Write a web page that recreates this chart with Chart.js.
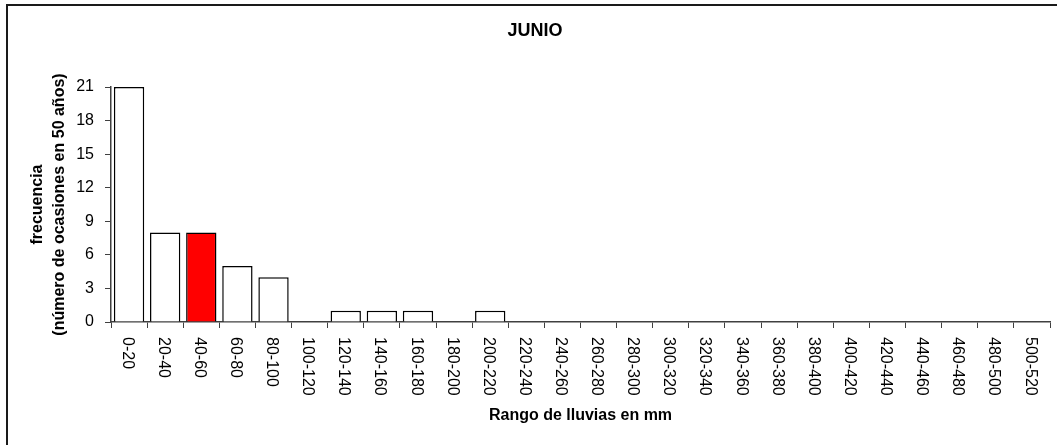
<!DOCTYPE html>
<html>
<head>
<meta charset="utf-8">
<script src="https://cdn.jsdelivr.net/npm/chart.js@4/dist/chart.umd.min.js"></script>
<style>
  body { margin: 0; background: #fff; }
  #frame { position: absolute; left: 6px; top: 4px; width: 1060px; height: 450px;
           border-left: 2px solid #1a1a1a; border-top: 2px solid #1a1a1a; }
  #chart { position: absolute; left: 0; top: 0; }
</style>
</head>
<body>
<div id="frame"></div>
<canvas id="chart" width="1057" height="445"></canvas>
<script>
const ranges = ["0-20", "20-40", "40-60", "60-80", "80-100", "100-120", "120-140", "140-160",
  "160-180", "180-200", "200-220", "220-240", "240-260", "260-280", "280-300", "300-320",
  "320-340", "340-360", "360-380", "380-400", "400-420", "420-440", "440-460", "460-480",
  "480-500", "500-520"];
const frecuencia = [21, 8, 8, 5, 4, 0, 1, 1, 1, 0, 1, 0, 0, 0, 0, 0, 0, 0, 0, 0, 0, 0, 0, 0, 0, 0];
const highlighted = "40-60";
const yTicks = [0, 3, 6, 9, 12, 15, 18, 21];
const chartTitle = "JUNIO";

const axisColor = "#404040";
const FONT = "Arial, 'Liberation Sans', sans-serif";

// x labels read top to bottom, so draw them turned clockwise; title sits left of centre
const extraText = {
  id: "extraText",
  afterDraw(chart) {
    const ctx = chart.ctx;
    const x = chart.scales.x;
    ctx.save();
    ctx.fillStyle = "#000";
    ctx.font = "bold 18px " + FONT;
    ctx.textAlign = "center";
    ctx.textBaseline = "middle";
    ctx.fillText(chartTitle, 535, 31);

    ctx.font = "16px " + FONT;
    ctx.textAlign = "left";
    ranges.forEach((r, i) => {
      ctx.save();
      ctx.translate(x.getPixelForValue(i) - 2, x.top + 15);
      ctx.rotate(Math.PI / 2);
      ctx.fillText(r, 0, 0);
      ctx.restore();
    });
    ctx.restore();
  }
};

new Chart(document.getElementById("chart"), {
  type: "bar",
  data: {
    labels: ranges,
    datasets: [{
      data: frecuencia,
      backgroundColor: ranges.map(r => r === highlighted ? "#ff0000" : "#ffffff"),
      borderColor: "#000",
      borderWidth: ctx => ctx.raw === 0 ? 0 : 1.5,
      borderSkipped: "start",
      barPercentage: 0.84,
      categoryPercentage: 1
    }]
  },
  options: {
    responsive: false,
    animation: false,
    layout: { padding: { left: 0, top: 87, right: 7, bottom: 0 } },
    plugins: {
      legend: { display: false },
      tooltip: { enabled: false },
      title: { display: false }
    },
    scales: {
      x: {
        grid: { display: true, drawOnChartArea: false, drawTicks: true, tickLength: 6,
                color: axisColor, offset: true },
        border: { display: true, color: axisColor, width: 1.5 },
        ticks: { display: false },
        title: {
          display: true,
          text: "Rango de lluvias en mm",
          color: "#000",
          font: { family: FONT, size: 16, weight: "bold" },
          padding: { top: 0, bottom: 19.4 }
        },
        afterFit(scale) { scale.height = 123; }
      },
      y: {
        min: 0,
        max: 21,
        afterBuildTicks(scale) { scale.ticks = yTicks.map(v => ({ value: v })); },
        grid: { display: true, drawOnChartArea: false, drawTicks: true, tickLength: 6,
                color: axisColor },
        border: { display: true, color: axisColor, width: 1.5 },
        ticks: {
          color: "#000",
          padding: 11,
          font: { family: FONT, size: 16 }
        },
        title: {
          display: true,
          text: ["frecuencia", "(número de ocasiones en 50 años)"],
          color: "#000",
          font: { family: FONT, size: 16, weight: "bold", lineHeight: 1.36 },
          padding: { top: 27, bottom: 0 }
        },
        afterFit(scale) { scale.width = 111; }
      }
    }
  },
  plugins: [extraText]
});
</script>
</body>
</html>
